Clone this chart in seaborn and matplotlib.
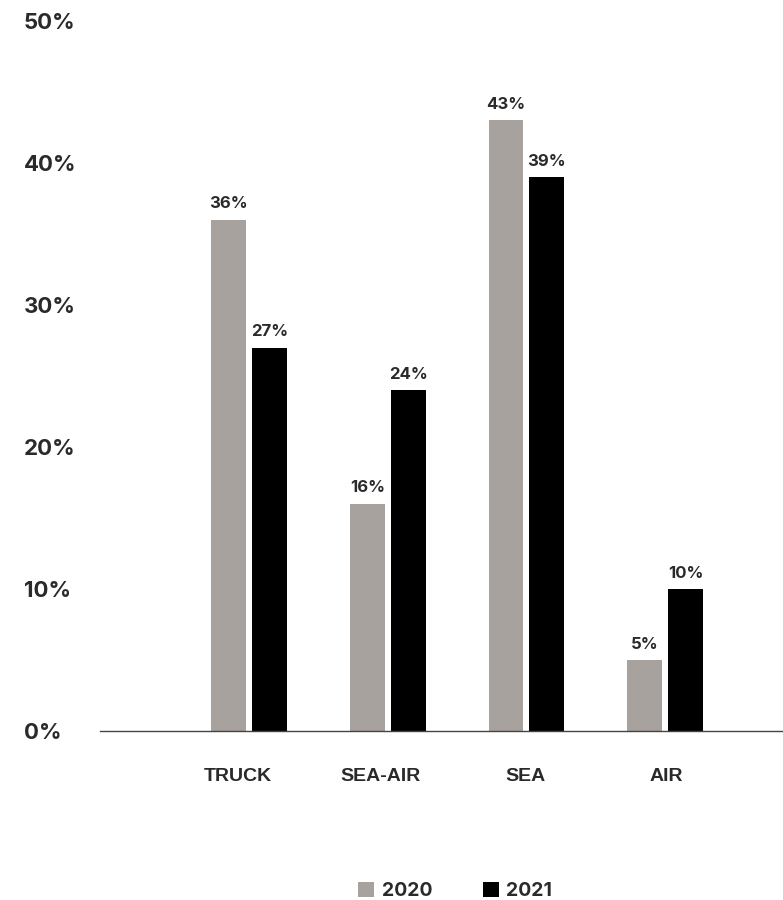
import matplotlib
matplotlib.use("Agg")
import matplotlib.pyplot as plt
import matplotlib.transforms as mtransforms
import seaborn as sns
import pandas as pd
from matplotlib.patches import Patch

categories = ["TRUCK", "SEA-AIR", "SEA", "AIR"]
years = ["2020", "2021"]
values_2020 = [36, 16, 43, 5]
values_2021 = [27, 24, 39, 10]
yticks = [0, 10, 20, 30, 40, 50]
ytick_labels = ["0%", "10%", "20%", "30%", "40%", "50%"]

df = pd.DataFrame({
    "mode": categories * 2,
    "year": [years[0]] * 4 + [years[1]] * 4,
    "value": values_2020 + values_2021,
})

sns.set_theme(style="white")
plt.rcParams["font.family"] = ["Inter", "DejaVu Sans"]
TEXT = "#2a2a2a"
GRAY = "#a8a29f"
palette = {"2020": GRAY, "2021": "#000000"}

fig = plt.figure(figsize=(7.83, 9.0), dpi=100)
ax = fig.add_axes([100 / 783, (900 - 731) / 900, 1 - 100 / 783, (731 - 21) / 900])

sns.barplot(data=df, x="mode", y="value", hue="year", order=categories,
            hue_order=years, palette=palette, width=0.59, gap=0.146,
            saturation=1, legend=False, ax=ax, edgecolor="none")

for cont in ax.containers:
    ax.bar_label(cont, labels=[f"{v:.0f}%" for v in cont.datavalues],
                 padding=6, fontsize=12, fontweight="bold", color=TEXT)

ax.set_xlim(-1.075, 3.85)
ax.set_ylim(0, 50)
ax.set_yticks(yticks)
ax.set_yticklabels(ytick_labels)
for lab in ax.get_yticklabels():
    lab.set_ha("left")
    lab.set_fontweight("bold")
    lab.set_fontsize(16)
    lab.set_color(TEXT)
ax.tick_params(axis="y", length=0, pad=76 * 72 / 100)
ax.tick_params(axis="x", length=0, pad=26.5)
# small horizontal nudges of the category labels as in the reference (pixels)
label_shift_px = [-11, -7, -1, 1]
for lab, dx in zip(ax.get_xticklabels(), label_shift_px):
    lab.set_fontweight("bold")
    lab.set_fontsize(14)
    lab.set_fontfamily(["Liberation Sans", "DejaVu Sans"])
    lab.set_color(TEXT)
    lab.set_transform(lab.get_transform() +
                      mtransforms.ScaledTranslation(dx / 100, 0, fig.dpi_scale_trans))
ax.set_xlabel("")
ax.set_ylabel("")

for s in ["top", "right", "left"]:
    ax.spines[s].set_visible(False)
ax.spines["bottom"].set_color("#444444")
ax.spines["bottom"].set_linewidth(1.0)

handles = [Patch(facecolor=palette[y], edgecolor="none", label=y) for y in years]
fig.legend(handles=handles, loc="center", bbox_to_anchor=(455 / 783, 9 / 900),
           ncol=2, frameon=False, handlelength=0.82, handleheight=0.82,
           handletextpad=0.4, columnspacing=2.6,
           prop={"weight": "bold", "size": 14, "family": ["Inter", "DejaVu Sans"]},
           labelcolor=TEXT)

fig.savefig("out.png", dpi=100)
